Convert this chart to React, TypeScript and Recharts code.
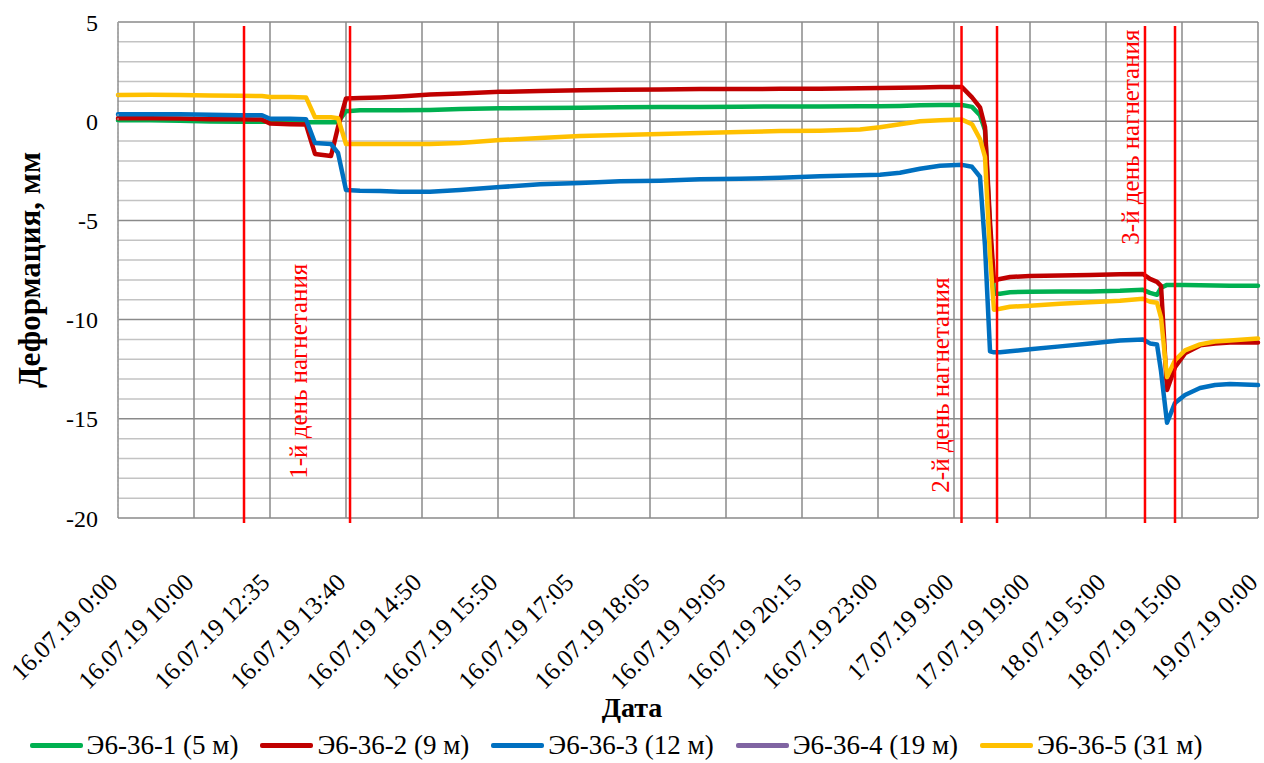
import React from 'react';
import { LineChart, Line, XAxis, YAxis, CartesianGrid, ReferenceLine, ReferenceDot, Legend } from 'recharts';

const FONT = "Liberation Serif, Tinos, DejaVu Serif, serif";

// Category tick labels (one per major division)
const xLabels = [
  '16.07.19 0:00', '16.07.19 10:00', '16.07.19 12:35', '16.07.19 13:40', '16.07.19 14:50',
  '16.07.19 15:50', '16.07.19 17:05', '16.07.19 18:05', '16.07.19 19:05', '16.07.19 20:15',
  '16.07.19 23:00', '17.07.19 9:00', '17.07.19 19:00', '18.07.19 5:00', '18.07.19 15:00',
  '19.07.19 0:00',
];
const xTickVals = xLabels.map((_, i) => i);

// sample positions along the category axis (in label-division units)
const samplePos = [
  0, 0.421, 0.816, 1.211, 1.605, 1.895, 2.0, 2.263, 2.474, 2.592, 2.803, 2.895,
  3.0, 3.184, 3.447, 3.711, 4.105, 4.5, 5.026, 5.553, 6.079, 6.605, 7.132, 7.658, 8.184, 8.711, 9.237, 9.763, 10.026, 10.289, 10.553, 10.816, 11.105,
  11.237, 11.342, 11.408, 11.474, 11.526, 11.605, 11.737, 12.0, 12.395, 12.789, 13.184, 13.487,
  13.579, 13.671, 13.724, 13.803, 13.908, 14.039, 14.237, 14.434, 14.632, 15.0,
];

const e1 = [
  0.05, 0.05, 0.02, -0.02, -0.03, -0.03, -0.03, -0.04, -0.05, -0.05, -0.05, -0.05,
  0.5, 0.55, 0.55, 0.55, 0.57, 0.62, 0.65, 0.66, 0.68, 0.7, 0.72, 0.72, 0.73, 0.74, 0.74, 0.75, 0.75, 0.77, 0.8, 0.82, 0.82,
  0.72, 0.3, -0.45, -5.5, -8.7, -8.7, -8.62, -8.6, -8.58, -8.58, -8.55, -8.5,
  -8.65, -8.75, -8.4, -8.25, -8.25, -8.25, -8.27, -8.28, -8.3, -8.3,
];
const e2 = [
  0.15, 0.15, 0.13, 0.1, 0.1, 0.08, -0.12, -0.15, -0.17, -1.65, -1.75, -0.3,
  1.15, 1.17, 1.2, 1.25, 1.35, 1.4, 1.48, 1.52, 1.56, 1.58, 1.6, 1.62, 1.62, 1.63, 1.64, 1.66, 1.67, 1.68, 1.7, 1.72, 1.72,
  1.2, 0.7, -0.3, -5.1, -8.05, -7.95, -7.85, -7.8, -7.78, -7.75, -7.72, -7.7,
  -7.95, -8.1, -8.3, -13.55, -12.4, -11.7, -11.3, -11.2, -11.15, -11.15,
];
const e3 = [
  0.35, 0.35, 0.35, 0.32, 0.3, 0.3, 0.12, 0.12, 0.1, -1.1, -1.15, -1.6,
  -3.47, -3.5, -3.52, -3.55, -3.55, -3.47, -3.32, -3.18, -3.12, -3.03, -3.0, -2.93, -2.9, -2.85, -2.78, -2.72, -2.7, -2.6, -2.4, -2.25, -2.2,
  -2.3, -2.8, -6.3, -11.6, -11.65, -11.65, -11.6, -11.5, -11.35, -11.2, -11.05, -11.0,
  -11.2, -11.25, -12.6, -15.2, -14.2, -13.8, -13.45, -13.3, -13.25, -13.3,
];
const e4: (number | null)[] = [];
const e5 = [
  1.32, 1.33, 1.32, 1.3, 1.28, 1.27, 1.22, 1.22, 1.2, 0.2, 0.2, 0.15,
  -1.15, -1.15, -1.15, -1.15, -1.15, -1.1, -0.95, -0.85, -0.75, -0.7, -0.65, -0.6, -0.55, -0.5, -0.48, -0.42, -0.3, -0.15, 0.0, 0.05, 0.08,
  -0.15, -0.9, -1.8, -6.8, -9.5, -9.45, -9.35, -9.3, -9.2, -9.12, -9.05, -8.95,
  -9.1, -9.15, -9.9, -12.9, -12.05, -11.55, -11.25, -11.1, -11.05, -10.95,
];

const seriesKeys = ['e1', 'e2', 'e3', 'e4', 'e5'];
const seriesNames = ['Э6-36-1 (5 м)', 'Э6-36-2 (9 м)', 'Э6-36-3 (12 м)', 'Э6-36-4 (19 м)', 'Э6-36-5 (31 м)'];
const seriesColors = ['#00B050', '#C00000', '#0070C0', '#8064A2', '#FFC000'];
const seriesValues = [e1, e2, e3, e4, e5];

// injection markers (positions on the category axis)
const injectionMarks = [1.658, 3.053, 11.099, 11.566, 13.513, 13.908];
const injectionTexts = ['1-й день нагнетания', '2-й день нагнетания', '3-й день нагнетания'];
const injectionTextPos = [
  { t: 2.38, v: -12.6 },
  { t: 10.82, v: -13.3 },
  { t: 13.32, v: -0.8 },
];

const yTicks = [-20, -15, -10, -5, 0, 5];
const yMinor = [-19, -18, -17, -16, -14, -13, -12, -11, -9, -8, -7, -6, -4, -3, -2, -1, 1, 2, 3, 4];

const data = samplePos.map((t, i) => {
  const row: any = { t };
  seriesKeys.forEach((k, j) => {
    const v = seriesValues[j][i];
    if (v !== undefined && v !== null) row[k] = v;
  });
  return row;
});

const W = 1264;
const H = 763;

const XTick = (props: any) => {
  const { x, y, payload } = props;
  const ax = x + 1;
  const ay = y + 66;
  return (
    <text x={ax} y={ay} textAnchor="end" transform={`rotate(-45 ${ax} ${ay})`}
      style={{ fontFamily: FONT }} fontSize={25} fill="#000">
      {xLabels[payload.value]}
    </text>
  );
};

const XTitle = (props: any) => {
  const vb = props.viewBox || { y: 518 };
  return (
    <text x={W / 2} y={vb.y + 199} textAnchor="middle" style={{ fontFamily: FONT }} fontSize={28}
      fontWeight="bold" fill="#000">Дата</text>
  );
};

const YTitle = () => (
  <text x={29} y={270} transform="rotate(-90 29 270)" textAnchor="middle" dominantBaseline="central"
    style={{ fontFamily: FONT }} fontSize={31} fontWeight="bold" fill="#000">Деформация, мм</text>
);

const makeAnnot = (text: string) => (props: any) => {
  const vb = props.viewBox;
  const cx = vb.x + vb.width / 2;
  const cy = vb.y + vb.height / 2;
  return (
    <text x={cx} y={cy} transform={`rotate(-90 ${cx} ${cy})`} textAnchor="middle" dominantBaseline="central"
      style={{ fontFamily: FONT }} fontSize={25} fill="#FF0000">{text}</text>
  );
};

const LegendBox = () => (
  <div style={{ height: 40, display: 'flex', alignItems: 'center', justifyContent: 'center', paddingRight: 32, fontFamily: FONT, fontSize: 27, color: '#000', position: 'relative', top: 2 }}>
    {seriesNames.map((n, i) => (
      <div key={n} style={{ display: 'flex', alignItems: 'center', marginRight: i < seriesNames.length - 1 ? 22 : 0 }}>
        <span style={{ display: 'inline-block', width: 53, height: 5, background: seriesColors[i], borderRadius: 2, marginRight: 4 }} />
        <span style={{ whiteSpace: 'nowrap' }}>{n}</span>
      </div>
    ))}
  </div>
);

export default function App() {
  return (
    <div style={{ position: 'relative', width: W, height: H, fontFamily: FONT }}>
      <style>{'body{margin:0;overflow:hidden;background:#fff}'}</style>
      <LineChart width={W} height={H} data={data} margin={{ top: 22, right: 6, left: 0, bottom: 0 }}
        style={{ fontFamily: FONT }}>
        <CartesianGrid horizontalValues={yMinor} vertical={false} stroke="#c3c3c3" strokeWidth={1.5} />
        <CartesianGrid horizontalValues={yTicks} verticalValues={xTickVals} stroke="#8a8a8a" strokeWidth={1.5} />
        <XAxis dataKey="t" type="number" domain={[0, 15]} ticks={xTickVals} interval={0}
          axisLine={false} tickLine={false} tickSize={0} tickMargin={0} height={205}
          tick={<XTick />} label={XTitle} />
        <YAxis type="number" domain={[-20, 5]} ticks={yTicks} interval={0} width={118}
          axisLine={{ stroke: '#b0b0b0', strokeDasharray: '2 2' }} tickLine={false} tickSize={6} tickMargin={14}
          tick={{ fontSize: 24, fill: '#000', style: { fontFamily: FONT } }} label={YTitle} />
        <Legend verticalAlign="bottom" align="center" content={<LegendBox />}
          wrapperStyle={{ left: 0, width: W, bottom: 0 }} />
        {seriesKeys.map((k, i) => (
          <Line key={k} type="linear" dataKey={k} name={seriesNames[i]} stroke={seriesColors[i]}
            strokeWidth={4.5} dot={false} activeDot={false} isAnimationActive={false}
            strokeLinejoin="round" strokeLinecap="round" />
        ))}
        {injectionMarks.map((m) => (
          <ReferenceLine key={m} segment={[{ x: m, y: 4.8 }, { x: m, y: -20.25 }]} ifOverflow="visible"
            stroke="#FF0000" strokeWidth={2.5} />
        ))}
        {injectionTextPos.map((p, i) => (
          <ReferenceDot key={i} x={p.t} y={p.v} r={1} fill="none" stroke="none" ifOverflow="visible"
            label={makeAnnot(injectionTexts[i])} />
        ))}
      </LineChart>
    </div>
  );
}
